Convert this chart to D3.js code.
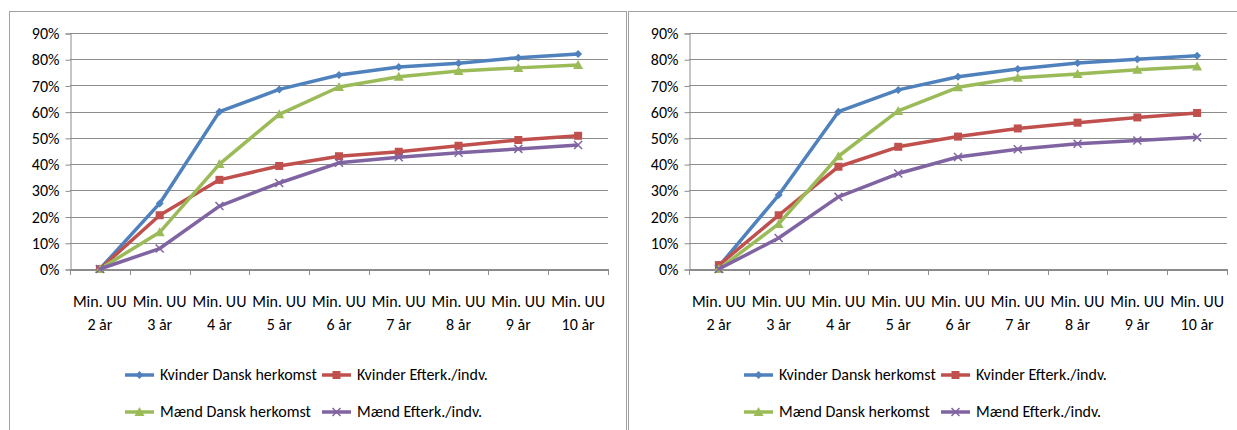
<!DOCTYPE html>
<html lang="da">
<head>
    <meta charset="UTF-8">
    <title>Min. UU</title>
    <script src="https://d3js.org/d3.v7.min.js"></script>
    <style>
        body {
            margin: 0;
            background: #fff;
        }
        svg text {
            font-family: Carlito, Calibri, "Liberation Sans", sans-serif;
            fill: #000;
        }
        .grid line {
            stroke: #8c8c8c;
            stroke-width: 1;
        }
        .panel {
            fill: none;
            stroke: #a0a0a0;
            stroke-width: 1;
        }
    </style>
</head>
<body>
    <svg width="1237" height="430"></svg>
    <script>
        // Categories on the x axis (two text lines each)
        const categories = ["2 år", "3 år", "4 år", "5 år", "6 år", "7 år", "8 år", "9 år", "10 år"];
        const yTicks = [0, 0.1, 0.2, 0.3, 0.4, 0.5, 0.6, 0.7, 0.8, 0.9];
        const seriesNames = ["Kvinder Dansk herkomst", "Kvinder Efterk./indv.", "Mænd Dansk herkomst", "Mænd Efterk./indv."];
        const seriesColors = ["#4f81bd", "#c0504d", "#9bbb59", "#8064a2"];
        const seriesMarkers = ["diamond", "square", "triangle", "cross"];

        // Left chart
        const leftKvinderDansk = [0, 0.25, 0.60, 0.685, 0.74, 0.77, 0.785, 0.806, 0.82];
        const leftKvinderEfterk = [0, 0.205, 0.34, 0.393, 0.43, 0.447, 0.47, 0.492, 0.508];
        const leftMaendDansk = [0, 0.14, 0.40, 0.59, 0.694, 0.733, 0.755, 0.767, 0.778];
        const leftMaendEfterk = [0, 0.078, 0.24, 0.328, 0.405, 0.426, 0.443, 0.458, 0.473];

        // Right chart
        const rightKvinderDansk = [0.01, 0.282, 0.60, 0.683, 0.733, 0.763, 0.786, 0.80, 0.813];
        const rightKvinderEfterk = [0.015, 0.205, 0.39, 0.466, 0.505, 0.536, 0.558, 0.578, 0.595];
        const rightMaendDansk = [0, 0.172, 0.43, 0.603, 0.693, 0.729, 0.744, 0.76, 0.772];
        const rightMaendEfterk = [0, 0.118, 0.275, 0.364, 0.427, 0.457, 0.478, 0.49, 0.502];

        const svg = d3.select("svg");
        const fontSize = "16px";

        function drawMarker(g, type, color, x, y) {
            if (type === "diamond") {
                g.append("path").attr("d", `M${x},${y-4}L${x+4},${y}L${x},${y+4}L${x-4},${y}Z`).attr("fill", color);
            } else if (type === "square") {
                g.append("rect").attr("x", x - 4).attr("y", y - 4).attr("width", 8).attr("height", 8).attr("fill", color);
            } else if (type === "triangle") {
                g.append("path").attr("d", `M${x},${y-5}L${x+5},${y+4}L${x-5},${y+4}Z`).attr("fill", color);
            } else {
                g.append("path").attr("d", `M${x-4},${y-4}L${x+4},${y+4}M${x-4},${y+4}L${x+4},${y-4}`)
                    .attr("stroke", color).attr("stroke-width", 1.5);
            }
        }

        function drawChart(offsetX, panelW, series) {
            // panel frame
            svg.append("rect").attr("class", "panel")
               .attr("x", offsetX + 9.5).attr("y", 11.5)
               .attr("width", panelW).attr("height", 440);

            const left = offsetX + 70, right = offsetX + 608;
            const top = 33, bottom = 269;

            const x = d3.scaleBand().domain(categories).range([left, right]);
            const y = d3.scaleLinear().domain([0, 0.9]).range([bottom, top]);

            const g = svg.append("g");

            // gridlines
            g.append("g").attr("class", "grid")
             .selectAll("line").data(yTicks.slice(1)).join("line")
             .attr("x1", left).attr("x2", right)
             .attr("y1", d => Math.round(y(d)) + 0.5).attr("y2", d => Math.round(y(d)) + 0.5);

            // y axis
            const yAxis = g.append("g").attr("transform", `translate(${left + 0.5},0.5)`)
                .call(d3.axisLeft(y).tickValues(yTicks).tickFormat(d3.format(".0%")).tickSize(5).tickPadding(6));
            yAxis.select(".domain").attr("stroke", "#8c8c8c");
            yAxis.selectAll(".tick line").attr("stroke", "#8c8c8c");
            yAxis.selectAll("text").style("font-size", fontSize);

            // x axis
            const xAxis = g.append("g").attr("transform", `translate(0,${bottom + 0.5})`)
                .call(d3.axisBottom(x).tickSize(0).tickFormat(""));
            xAxis.select(".domain").attr("stroke", "#8c8c8c").attr("stroke-width", 2);
            // tick marks between categories
            g.append("g").selectAll("line").data(d3.range(categories.length + 1)).join("line")
             .attr("x1", i => Math.round(left + i * x.step()) + 0.5)
             .attr("x2", i => Math.round(left + i * x.step()) + 0.5)
             .attr("y1", bottom).attr("y2", bottom + 6)
             .attr("stroke", "#8c8c8c");

            // x labels
            const lbl = g.append("g").selectAll("text").data(categories).join("text")
                .attr("x", d => x(d) + x.bandwidth() / 2)
                .attr("text-anchor", "middle")
                .style("font-size", fontSize);
            lbl.append("tspan").attr("x", d => x(d) + x.bandwidth() / 2).attr("y", 307).text("Min. UU");
            lbl.append("tspan").attr("x", d => x(d) + x.bandwidth() / 2).attr("y", 330).text(d => d);

            // lines; draw order: blue, red, green, purple
            const line = d3.line()
                .x((d, i) => x(categories[i]) + x.bandwidth() / 2)
                .y(d => y(d));
            series.forEach((vals, si) => {
                g.append("path").datum(vals)
                 .attr("d", line)
                 .attr("fill", "none")
                 .attr("stroke", seriesColors[si])
                 .attr("stroke-width", 3.5)
                 .attr("stroke-linejoin", "round");
                vals.forEach((v, i) => drawMarker(g, seriesMarkers[si], seriesColors[si],
                    x(categories[i]) + x.bandwidth() / 2, y(v)));
            });

            // legend
            const legPos = [[offsetX + 125, 375], [offsetX + 322, 375], [offsetX + 125, 412], [offsetX + 322, 412]];
            seriesNames.forEach((name, si) => {
                const [lx, ly] = legPos[si];
                const lg = svg.append("g");
                lg.append("line").attr("x1", lx).attr("x2", lx + 29).attr("y1", ly).attr("y2", ly)
                  .attr("stroke", seriesColors[si]).attr("stroke-width", 3.5);
                drawMarker(lg, seriesMarkers[si], seriesColors[si], lx + 14.5, ly);
                lg.append("text").attr("x", lx + 35).attr("y", ly + 5)
                  .style("font-size", fontSize).text(name);
            });
        }

        drawChart(0, 617, [leftKvinderDansk, leftKvinderEfterk, leftMaendDansk, leftMaendEfterk]);
        drawChart(619, 640, [rightKvinderDansk, rightKvinderEfterk, rightMaendDansk, rightMaendEfterk]);
    </script>
</body>
</html>
